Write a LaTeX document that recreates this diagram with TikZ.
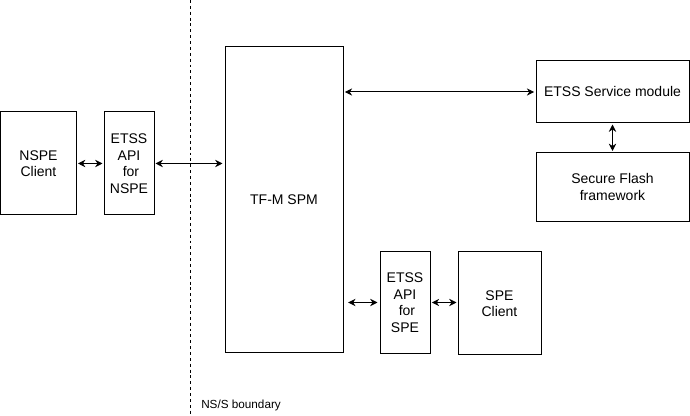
\documentclass[tikz,border=0pt]{standalone}
\usepackage{fontspec}
\setmainfont{Liberation Sans}
\usetikzlibrary{arrows.meta}
\begin{document}
\begin{tikzpicture}[x=0.75pt,y=-0.75pt,
  box/.style={draw=black,line width=0.75pt,fill=white,inner sep=0pt,align=center,font=\fontsize{10.5}{12.4}\selectfont},
  conn/.style={line width=0.75pt,{Stealth[length=5.5pt,width=5.5pt]}-{Stealth[length=5.5pt,width=5.5pt]}},
  bound/.style={line width=0.6pt,dash pattern=on 2.2pt off 2.2pt}]
\path[use as bounding box] (0,0) rectangle (690,416);
\coordinate (bt) at (190,0);
\coordinate (bb) at (190,416);
\draw[bound] (bt) -- (bb);
\node[box,minimum width=57pt,minimum height=77.25pt] (nspe) at (38.5,163.5) {NSPE\\Client};
\node[box,minimum width=37.5pt,minimum height=77.25pt] (apin) at (129,163.5) {ETSS\\API\\\ for\\NSPE};
\node[box,minimum width=88.5pt,minimum height=229.5pt] (spm) at (284,200) {TF-M SPM};
\node[box,minimum width=114.75pt,minimum height=46.5pt] (svc) at (612.5,92) {ETSS Service module};
\node[box,minimum width=114.75pt,minimum height=51.75pt] (flash) at (612.5,187) {Secure Flash\\framework};
\node[box,minimum width=37.5pt,minimum height=76.5pt] (apis) at (405,302.5) {ETSS\\API\\\ for\\SPE};
\node[box,minimum width=62.25pt,minimum height=77.25pt] (spec) at (499.5,303.5) {SPE\\Client};
\node[anchor=west,inner sep=0pt,font=\fontsize{8.8}{10}\selectfont] (lbl) at (201,405) {NS/S boundary};
\draw[conn,shorten <=0.75pt,shorten >=0.75pt] (nspe.east) -- (apin.west);
\draw[conn,shorten <=0.75pt,shorten >=1.5pt] (apin.east) -- (apin.east -| spm.west);
\draw[conn,shorten <=1pt,shorten >=1pt] (svc.west -| spm.east) -- (svc.west);
\draw[conn,shorten <=0.75pt,shorten >=0.75pt] (svc.south) -- (flash.north);
\draw[conn,shorten <=3.5pt,shorten >=1.5pt] (apis.west -| spm.east) -- (apis.west);
\draw[conn,shorten <=1pt,shorten >=0.75pt] (apis.east) -- (apis.east -| spec.west);
\end{tikzpicture}
\end{document}
